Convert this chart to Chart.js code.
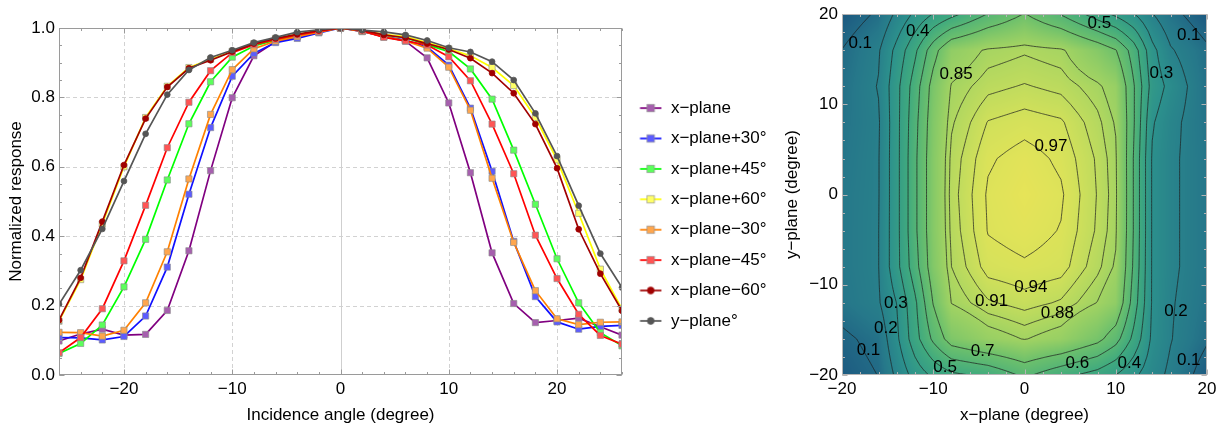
<!DOCTYPE html>
<html><head><meta charset="utf-8">
<script src="https://cdn.jsdelivr.net/npm/chart.js@4/dist/chart.umd.min.js"></script>
<style>
html,body{margin:0;padding:0;background:#fff;width:1225px;height:429px;overflow:hidden;}
#c1{position:absolute;left:0;top:0;}
#c2{position:absolute;left:770px;top:0;}
</style></head><body>
<canvas id="c1" width="780" height="429"></canvas>
<canvas id="c2" width="455" height="429"></canvas>
<script>
const FONT = "'Liberation Sans', Arial, Helvetica, sans-serif";
Chart.defaults.font.family = FONT;
Chart.defaults.font.size = 17;
Chart.defaults.color = '#000';

// ---------- Left panel data ----------
const angles = [-26,-24,-22,-20,-18,-16,-14,-12,-10,-8,-6,-4,-2,0,2,4,6,8,10,12,14,16,18,20,22,24,26];
const xPlane    = [0.098,0.118,0.132,0.115,0.117,0.186,0.358,0.589,0.799,0.920,0.960,0.975,0.990,1.000,0.990,0.976,0.962,0.914,0.784,0.583,0.352,0.206,0.151,0.157,0.164,0.139,0.115];
const xPlaneP30 = [0.108,0.107,0.101,0.111,0.170,0.311,0.521,0.713,0.861,0.927,0.958,0.970,0.986,1.000,0.990,0.975,0.965,0.945,0.893,0.769,0.587,0.385,0.226,0.153,0.132,0.140,0.143];
const xPlaneP45 = [0.062,0.091,0.144,0.254,0.391,0.562,0.724,0.845,0.916,0.948,0.965,0.980,0.990,1.000,0.992,0.980,0.972,0.952,0.932,0.882,0.795,0.648,0.492,0.335,0.208,0.122,0.084];
const xPlaneP60 = [0.155,0.275,0.435,0.600,0.742,0.832,0.886,0.910,0.933,0.955,0.970,0.982,0.992,1.000,0.993,0.982,0.975,0.958,0.940,0.920,0.886,0.834,0.742,0.620,0.466,0.305,0.190];
const xPlaneM30 = [0.123,0.122,0.112,0.129,0.208,0.355,0.565,0.751,0.880,0.940,0.962,0.975,0.988,1.000,0.990,0.975,0.963,0.942,0.887,0.763,0.567,0.382,0.243,0.162,0.145,0.152,0.153];
const xPlaneM45 = [0.064,0.108,0.191,0.329,0.489,0.655,0.786,0.877,0.929,0.952,0.967,0.980,0.990,1.000,0.992,0.973,0.963,0.951,0.917,0.848,0.723,0.580,0.403,0.278,0.175,0.114,0.089];
const xPlaneM60 = [0.158,0.280,0.442,0.605,0.739,0.830,0.884,0.907,0.932,0.955,0.970,0.982,0.993,1.000,0.994,0.980,0.972,0.955,0.938,0.913,0.870,0.812,0.723,0.596,0.420,0.292,0.185];
const yPlane    = [0.204,0.302,0.421,0.559,0.695,0.808,0.879,0.915,0.936,0.958,0.973,0.988,0.995,1.000,0.994,0.989,0.980,0.964,0.943,0.931,0.903,0.850,0.754,0.631,0.488,0.350,0.252];
const seriesNames = ['x\u2212plane','x\u2212plane+30\u00b0','x\u2212plane+45\u00b0','x\u2212plane+60\u00b0','x\u2212plane\u221230\u00b0','x\u2212plane\u221245\u00b0','x\u2212plane\u221260\u00b0','y\u2212plane\u00b0'];
const seriesValues = [xPlane, xPlaneP30, xPlaneP45, xPlaneP60, xPlaneM30, xPlaneM45, xPlaneM60, yPlane];
const leftXTicks = [-20,-10,0,10,20];
const leftYTicks = [0,0.2,0.4,0.6,0.8,1.0];

// ---------- Right panel data (grid of normalized response) ----------
const gridX = [-20,-16,-14,-12,-10,-8,-4,0,4,8,10,12,14,16,20];
const gridY = [20,16,12,8,4,0,-4,-8,-12,-16,-20];
const zRowP20 = [0.04,0.115,0.22,0.32,0.405,0.47,0.605,0.705,0.595,0.45,0.38,0.305,0.205,0.13,0.04];
const zRowP16 = [0.102,0.19,0.33,0.48,0.66,0.80,0.86,0.875,0.86,0.77,0.705,0.55,0.33,0.21,0.115];
const zRowP12 = [0.12,0.205,0.37,0.55,0.74,0.855,0.90,0.913,0.90,0.86,0.82,0.605,0.36,0.27,0.12];
const zRowP08 = [0.13,0.19,0.37,0.57,0.76,0.875,0.942,0.956,0.945,0.89,0.845,0.605,0.31,0.23,0.13];
const zRowP04 = [0.14,0.195,0.37,0.58,0.77,0.89,0.965,0.985,0.963,0.905,0.858,0.59,0.29,0.22,0.14];
const zRow000 = [0.15,0.195,0.37,0.58,0.77,0.895,0.975,0.995,0.975,0.908,0.862,0.59,0.29,0.22,0.14];
const zRowM04 = [0.15,0.198,0.37,0.58,0.77,0.89,0.972,0.985,0.968,0.905,0.858,0.59,0.29,0.22,0.14];
const zRowM08 = [0.15,0.198,0.37,0.56,0.76,0.88,0.955,0.965,0.955,0.89,0.843,0.58,0.29,0.22,0.14];
const zRowM12 = [0.14,0.19,0.302,0.48,0.705,0.852,0.905,0.925,0.905,0.848,0.80,0.55,0.29,0.21,0.13];
const zRowM16 = [0.08,0.13,0.28,0.46,0.62,0.75,0.82,0.853,0.82,0.73,0.64,0.47,0.28,0.205,0.11];
const zRowM20 = [0.05,0.102,0.22,0.34,0.42,0.48,0.52,0.62,0.53,0.46,0.40,0.32,0.24,0.18,0.05];
const zRows = [zRowP20,zRowP16,zRowP12,zRowP08,zRowP04,zRow000,zRowM04,zRowM08,zRowM12,zRowM16,zRowM20];
const contourLevels = [0.1,0.2,0.3,0.4,0.5,0.6,0.7,0.85,0.88,0.91,0.94,0.97];
const contourLabelText = ['0.1','0.4','0.5','0.1','0.85','0.3','0.97','0.94','0.91','0.88','0.3','0.2','0.1','0.7','0.5','0.6','0.4','0.2','0.1'];
const contourLabelX = [-18.0,-11.7,8.2,18.0,-7.5,15.0,2.9,0.7,-3.6,3.6,-14.1,-15.2,-17.1,-4.6,-8.7,5.8,11.5,16.6,18.0];
const contourLabelY = [16.8,18.1,19.0,17.7,13.3,13.5,5.3,-10.3,-11.8,-13.2,-12.1,-14.8,-17.3,-17.4,-19.1,-18.7,-18.7,-12.9,-18.4];
const rightTicks = [-20,-10,0,10,20];

// ---------- styles ----------
const lineColors   = ['#800080','#1010ff','#00ff00','#ffff00','#ff8000','#ff0000','#a00000','#555555'];
const markerColors = ['#a65fae','#5c5cff','#5cff5c','#ffff66','#ffa64d','#ff5555','#a00000','#555555'];
const markerBorders= ['rgba(140,140,140,0.8)','rgba(140,140,140,0.8)','rgba(140,140,140,0.8)','rgba(140,140,140,0.8)','rgba(140,140,140,0.8)','rgba(140,140,140,0.8)','#a00000','#555555'];
const markerStyles = ['rect','rect','rect','rect','rect','rect','circle','circle'];
const cmapStops  = [0.04, 0.15, 0.30, 0.50, 0.70, 0.85, 0.95, 1.0];
const cmapColors = [[28,88,128],[38,120,138],[44,145,140],[64,170,126],[108,192,108],[162,211,98],[212,225,90],[232,228,88]];

const fmt = v => v < 0 ? '\u2212' + Math.abs(v) : String(v);
const range = (a, b, s) => { const r = []; for (let v = a; v <= b + 1e-9; v += s) r.push(+v.toFixed(4)); return r; };

function framePlugin(o) {
  return {
    id: 'frameTicks',
    beforeDatasetsDraw(chart) {
      const {ctx, chartArea: a, scales: {x, y}} = chart;
      ctx.save();
      ctx.lineWidth = 1;
      ctx.strokeStyle = '#d2d2d2';
      ctx.setLineDash([4, 3]);
      (o.dashX || []).forEach(v => { const p = Math.round(x.getPixelForValue(v)) + 0.5; ctx.beginPath(); ctx.moveTo(p, a.top); ctx.lineTo(p, a.bottom); ctx.stroke(); });
      (o.dashY || []).forEach(v => { const p = Math.round(y.getPixelForValue(v)) + 0.5; ctx.beginPath(); ctx.moveTo(a.left, p); ctx.lineTo(a.right, p); ctx.stroke(); });
      ctx.setLineDash([]);
      ctx.strokeStyle = '#cfcfcf';
      (o.solidX || []).forEach(v => { const p = Math.round(x.getPixelForValue(v)) + 0.5; ctx.beginPath(); ctx.moveTo(p, a.top); ctx.lineTo(p, a.bottom); ctx.stroke(); });
      ctx.restore();
    },
    afterDatasetsDraw(chart) {
      const {ctx, chartArea: a, scales: {x, y}} = chart;
      ctx.save();
      ctx.lineWidth = 1;
      ctx.strokeStyle = o.color;
      const L = Math.round(a.left) + 0.5, R = Math.round(a.right) - 0.5, T = Math.round(a.top) + 0.5, B = Math.round(a.bottom) - 0.5;
      const tickX = (vals, len) => vals.forEach(v => { const p = Math.round(x.getPixelForValue(v)) + 0.5; ctx.beginPath(); ctx.moveTo(p, B); ctx.lineTo(p, B - len); ctx.moveTo(p, T); ctx.lineTo(p, T + len); ctx.stroke(); });
      const tickY = (vals, len) => vals.forEach(v => { const p = Math.round(y.getPixelForValue(v)) + 0.5; ctx.beginPath(); ctx.moveTo(L, p); ctx.lineTo(L + len, p); ctx.moveTo(R, p); ctx.lineTo(R - len, p); ctx.stroke(); });
      tickX(o.minorX, 2.5); tickX(o.majorX, 5);
      tickY(o.minorY, 2.5); tickY(o.majorY, 5);
      ctx.strokeRect(L, T, R - L, B - T);
      ctx.restore();
    }
  };
}

function legendIcon(i) {
  const c = document.createElement('canvas'); c.width = 27; c.height = 12;
  const g = c.getContext('2d');
  g.strokeStyle = lineColors[i]; g.lineWidth = 1.7;
  g.beginPath(); g.moveTo(4.6, 6); g.lineTo(26, 6); g.stroke();
  g.fillStyle = markerColors[i]; g.strokeStyle = markerBorders[i]; g.lineWidth = 0.8;
  if (markerStyles[i] === 'rect') { g.fillRect(11.6, 2.3, 7.4, 7.4); g.strokeRect(11.6, 2.3, 7.4, 7.4); }
  else { g.beginPath(); g.arc(15.3, 6, 3.4, 0, Math.PI * 2); g.fill(); g.stroke(); }
  return c;
}

// ---------- Left chart ----------
new Chart(document.getElementById('c1'), {
  type: 'scatter',
  data: {
    datasets: seriesValues.map((vals, i) => ({
      label: seriesNames[i],
      data: angles.map((a, k) => ({x: a, y: vals[k]})),
      showLine: true,
      borderColor: lineColors[i],
      borderWidth: 1.7,
      pointStyle: markerStyles[i],
      pointRadius: markerStyles[i] === 'rect' ? 4.4 : 2.9,
      pointBackgroundColor: markerColors[i],
      pointBorderColor: markerBorders[i],
      pointBorderWidth: 0.8,
      order: seriesValues.length - 1 - i
    }))
  },
  options: {
    responsive: false, animation: false, events: [], devicePixelRatio: 1,
    layout: {padding: {top: 0, right: 8, bottom: 0, left: 0}},
    plugins: {
      tooltip: {enabled: false},
      legend: {
        position: 'right', align: 'center', maxWidth: 150,
        labels: {
          usePointStyle: true, pointStyleWidth: 27, padding: 13.4,
          font: {family: FONT, size: 17}, color: '#000',
          generateLabels: (chart) => chart.data.datasets.map((ds, i) => ({
            text: ds.label, pointStyle: legendIcon(i), fillStyle: 'rgba(0,0,0,0)',
            strokeStyle: 'rgba(0,0,0,0)', lineWidth: 0, hidden: false, datasetIndex: i
          }))
        }
      }
    },
    scales: {
      x: {
        type: 'linear', min: -26, max: 26,
        afterBuildTicks: s => { s.ticks = leftXTicks.map(v => ({value: v})); },
        grid: {display: false, drawTicks: false}, border: {display: false},
        ticks: {padding: 4, maxRotation: 0, autoSkip: false, callback: v => fmt(v), color: '#000'},
        title: {display: true, text: 'Incidence angle (degree)', color: '#000', padding: {top: 0, bottom: 3.8}},
        afterFit: s => { s.height = 54; }
      },
      xTop: {
        type: 'linear', position: 'top', display: true, min: 0, max: 1,
        grid: {display: false, drawTicks: false}, border: {display: false},
        ticks: {display: false},
        afterFit: s => { s.height = 28; }
      },
      y: {
        type: 'linear', min: 0, max: 1,
        afterBuildTicks: s => { s.ticks = leftYTicks.map(v => ({value: v})); },
        grid: {display: false, drawTicks: false}, border: {display: false},
        ticks: {padding: 4, callback: v => Number(v).toFixed(1), color: '#000'},
        title: {display: true, text: 'Normalized response', color: '#000', padding: {top: 5.8, bottom: 0}},
        afterFit: s => { s.width = 59; }
      }
    }
  },
  plugins: [framePlugin({
    color: '#9a9a9a',
    dashX: [-20, -10, 10, 20], solidX: [0], dashY: [0.2, 0.4, 0.6, 0.8],
    majorX: leftXTicks, minorX: range(-26, 26, 2),
    majorY: leftYTicks, minorY: range(0, 1, 0.05)
  })]
});

// ---------- Right chart helpers ----------
const yAsc = gridY.slice().reverse();
const rowsAsc = zRows.slice().reverse();
function locate(arr, v) {
  let i = 0;
  while (i < arr.length - 2 && v > arr[i + 1]) i++;
  let t = (v - arr[i]) / (arr[i + 1] - arr[i]);
  return [i, Math.max(0, Math.min(1, t))];
}
function fieldAt(xv, yv) {
  const [i, tx] = locate(gridX, xv);
  const [j, ty] = locate(yAsc, yv);
  const z00 = rowsAsc[j][i], z10 = rowsAsc[j][i + 1], z01 = rowsAsc[j + 1][i], z11 = rowsAsc[j + 1][i + 1];
  return (z00 * (1 - tx) + z10 * tx) * (1 - ty) + (z01 * (1 - tx) + z11 * tx) * ty;
}
function colorFor(v) {
  if (v <= cmapStops[0]) return cmapColors[0];
  for (let k = 1; k < cmapStops.length; k++) {
    if (v <= cmapStops[k]) {
      const t = (v - cmapStops[k - 1]) / (cmapStops[k] - cmapStops[k - 1]);
      const a = cmapColors[k - 1], b = cmapColors[k];
      return [a[0] + (b[0] - a[0]) * t, a[1] + (b[1] - a[1]) * t, a[2] + (b[2] - a[2]) * t];
    }
  }
  return cmapColors[cmapColors.length - 1];
}
// refined sampling lattice for contouring (bilinear surface of the grid)
const REF = 4;
function refine(arr) { const out = []; for (let i = 0; i < arr.length - 1; i++) for (let k = 0; k < REF; k++) out.push(arr[i] + (arr[i + 1] - arr[i]) * k / REF); out.push(arr[arr.length - 1]); return out; }
const fx = refine(gridX), fy = refine(yAsc);
const fz = fy.map(yv => fx.map(xv => fieldAt(xv, yv)));
function contourLines(level) {
  const segs = [];
  const ip = (x1, y1, v1, x2, y2, v2) => { const t = (level - v1) / (v2 - v1); return {x: x1 + (x2 - x1) * t, y: y1 + (y2 - y1) * t}; };
  for (let j = 0; j < fy.length - 1; j++) {
    for (let i = 0; i < fx.length - 1; i++) {
      const va = fz[j][i], vb = fz[j][i + 1], vc = fz[j + 1][i + 1], vd = fz[j + 1][i];
      const x0 = fx[i], x1 = fx[i + 1], y0 = fy[j], y1 = fy[j + 1];
      const e = [null, null, null, null];
      if ((va >= level) !== (vb >= level)) e[0] = ip(x0, y0, va, x1, y0, vb);
      if ((vb >= level) !== (vc >= level)) e[1] = ip(x1, y0, vb, x1, y1, vc);
      if ((vd >= level) !== (vc >= level)) e[2] = ip(x0, y1, vd, x1, y1, vc);
      if ((va >= level) !== (vd >= level)) e[3] = ip(x0, y0, va, x0, y1, vd);
      const pts = e.map((p, k) => p ? k : -1).filter(k => k >= 0);
      if (pts.length === 2) segs.push([e[pts[0]], e[pts[1]]]);
      else if (pts.length === 4) {
        const m = (va + vb + vc + vd) / 4;
        if ((m >= level) === (va >= level)) { segs.push([e[0], e[1]]); segs.push([e[2], e[3]]); }
        else { segs.push([e[0], e[3]]); segs.push([e[1], e[2]]); }
      }
    }
  }
  const key = p => p.x.toFixed(6) + ',' + p.y.toFixed(6);
  const map = new Map();
  segs.forEach((s, i) => s.forEach(p => { const k = key(p); if (!map.has(k)) map.set(k, []); map.get(k).push(i); }));
  const used = new Array(segs.length).fill(false);
  const out = [];
  for (let i = 0; i < segs.length; i++) {
    if (used[i]) continue;
    used[i] = true;
    let line = [segs[i][0], segs[i][1]];
    for (let dir = 0; dir < 2; dir++) {
      let go = true;
      while (go) {
        go = false;
        const end = line[line.length - 1], ke = key(end);
        for (const j of (map.get(ke) || [])) {
          if (used[j]) continue;
          used[j] = true;
          const s = segs[j];
          line.push(key(s[0]) === ke ? s[1] : s[0]);
          go = true; break;
        }
      }
      line.reverse();
    }
    line.forEach(p => out.push(p));
    out.push({x: null, y: null});
  }
  return out;
}

const heatmapPlugin = {
  id: 'heatmap',
  beforeDatasetsDraw(chart) {
    const {ctx, chartArea: a, scales: {x, y}} = chart;
    const L = Math.round(a.left), T = Math.round(a.top);
    const W = Math.round(a.right) - L, H = Math.round(a.bottom) - T;
    const off = document.createElement('canvas'); off.width = W; off.height = H;
    const octx = off.getContext('2d');
    const img = octx.createImageData(W, H);
    for (let j = 0; j < H; j++) {
      const yv = y.getValueForPixel(T + j + 0.5);
      for (let i = 0; i < W; i++) {
        const xv = x.getValueForPixel(L + i + 0.5);
        const c = colorFor(fieldAt(xv, yv));
        const k = (j * W + i) * 4;
        img.data[k] = c[0]; img.data[k + 1] = c[1]; img.data[k + 2] = c[2]; img.data[k + 3] = 255;
      }
    }
    octx.putImageData(img, 0, 0);
    ctx.drawImage(off, L, T);
  }
};
const labelPlugin = {
  id: 'contourLabels',
  afterDatasetsDraw(chart) {
    const {ctx, scales: {x, y}} = chart;
    ctx.save();
    ctx.font = '17px ' + FONT;
    ctx.fillStyle = '#000';
    ctx.textAlign = 'center'; ctx.textBaseline = 'middle';
    contourLabelText.forEach((t, i) => ctx.fillText(t, x.getPixelForValue(contourLabelX[i]), y.getPixelForValue(contourLabelY[i])));
    ctx.restore();
  }
};

new Chart(document.getElementById('c2'), {
  type: 'scatter',
  data: {
    datasets: contourLevels.map(L => ({
      label: String(L), data: contourLines(L), showLine: true, spanGaps: false,
      pointRadius: 0, borderColor: 'rgba(30,30,30,0.72)', borderWidth: 1, tension: 0.001,
      borderJoinStyle: 'round'
    }))
  },
  options: {
    responsive: false, animation: false, events: [], devicePixelRatio: 1,
    layout: {padding: {top: 11, right: 18, bottom: 0, left: 0}},
    plugins: {legend: {display: false}, tooltip: {enabled: false}},
    scales: {
      x: {
        type: 'linear', min: -20, max: 20,
        afterBuildTicks: s => { s.ticks = rightTicks.map(v => ({value: v})); },
        grid: {display: false, drawTicks: false}, border: {display: false},
        ticks: {padding: 4, maxRotation: 0, autoSkip: false, callback: v => fmt(v), color: '#000'},
        title: {display: true, text: 'x\u2212plane (degree)', color: '#000', padding: {top: 0, bottom: 3.8}},
        afterFit: s => { s.height = 54; }
      },
      y: {
        type: 'linear', min: -20, max: 20,
        afterBuildTicks: s => { s.ticks = rightTicks.map(v => ({value: v})); },
        grid: {display: false, drawTicks: false}, border: {display: false},
        ticks: {padding: 4, callback: v => fmt(v), color: '#000'},
        title: {display: true, text: 'y\u2212plane (degree)', color: '#000', padding: {top: 11.8, bottom: 0}},
        afterFit: s => { s.width = 72; }
      }
    }
  },
  plugins: [heatmapPlugin, labelPlugin, framePlugin({
    color: '#b4b4b4',
    majorX: rightTicks, minorX: range(-20, 20, 2),
    majorY: rightTicks, minorY: range(-20, 20, 2)
  })]
});
</script>
</body></html>
